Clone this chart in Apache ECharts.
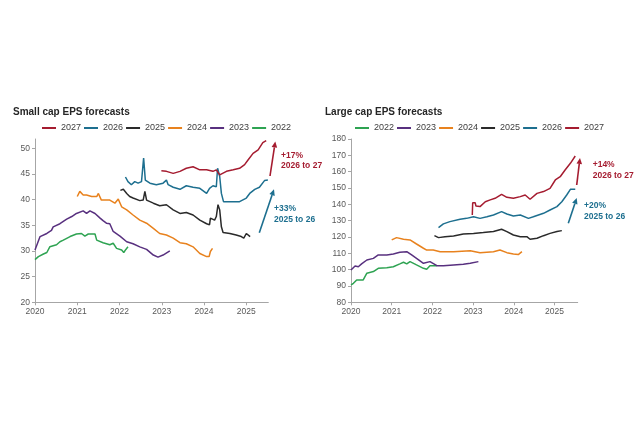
<!DOCTYPE html>
<html><head><meta charset="utf-8">
<script src="https://cdn.jsdelivr.net/npm/echarts@6/dist/echarts.min.js"></script>
<style>html,body{margin:0;padding:0;background:#fff}#c{width:640px;height:426px}</style>
</head><body><div id="c"></div>
<script>
// ---- Data: [decimal year, EPS forecast] ----
const xTicks = [2020, 2021, 2022, 2023, 2024, 2025];

const small2022 = [[2020.00,28.3],[2020.08,28.9],[2020.20,29.4],[2020.28,29.7],[2020.35,30.8],[2020.43,31.0],[2020.51,31.2],[2020.59,31.8],[2020.67,32.1],[2020.83,32.8],[2020.98,33.3],[2021.10,33.4],[2021.18,32.9],[2021.26,33.3],[2021.42,33.3],[2021.46,32.1],[2021.61,31.6],[2021.77,31.2],[2021.85,31.5],[2021.93,30.5],[2022.05,30.2],[2022.10,29.7],[2022.15,30.3],[2022.20,30.8]];
const small2023 = [[2020.00,30.2],[2020.06,31.5],[2020.12,32.8],[2020.28,33.4],[2020.39,34.0],[2020.43,34.7],[2020.59,35.3],[2020.75,36.2],[2020.87,36.7],[2020.98,37.3],[2021.14,37.8],[2021.22,37.3],[2021.30,37.8],[2021.42,37.3],[2021.54,36.4],[2021.61,35.9],[2021.69,35.4],[2021.77,35.3],[2021.85,33.8],[2022.01,32.9],[2022.17,31.8],[2022.32,31.4],[2022.48,30.8],[2022.64,30.3],[2022.80,29.2],[2022.91,28.8],[2023.03,29.2],[2023.19,30.0]];
const small2024 = [[2021.00,40.6],[2021.06,41.6],[2021.14,40.9],[2021.22,40.9],[2021.34,40.6],[2021.46,40.6],[2021.50,41.2],[2021.57,39.9],[2021.77,39.9],[2021.89,39.3],[2021.97,40.1],[2022.05,38.6],[2022.17,38.0],[2022.32,37.0],[2022.48,36.0],[2022.64,35.4],[2022.80,34.4],[2022.95,33.4],[2023.11,33.1],[2023.27,32.5],[2023.43,31.6],[2023.58,31.4],[2023.74,30.8],[2023.90,29.5],[2024.06,28.9],[2024.12,28.9],[2024.15,29.9],[2024.20,30.5]];
const small2025 = [[2022.02,41.8],[2022.09,42.0],[2022.17,41.2],[2022.24,40.6],[2022.32,40.3],[2022.48,39.8],[2022.56,39.9],[2022.60,41.6],[2022.64,39.9],[2022.80,39.3],[2022.95,38.8],[2023.11,39.0],[2023.27,38.0],[2023.43,37.3],[2023.58,37.5],[2023.74,37.0],[2023.90,36.0],[2024.06,35.3],[2024.13,35.1],[2024.15,36.4],[2024.25,36.0],[2024.29,36.7],[2024.33,39.0],[2024.37,38.0],[2024.41,34.7],[2024.45,33.6],[2024.61,33.4],[2024.76,33.1],[2024.88,32.8],[2024.94,32.5],[2025.00,33.4],[2025.09,32.8]];
const small2026 = [[2022.14,44.4],[2022.20,43.5],[2022.28,42.9],[2022.36,43.5],[2022.44,43.2],[2022.52,43.5],[2022.57,48.1],[2022.61,43.8],[2022.72,43.2],[2022.87,42.9],[2023.03,43.2],[2023.11,43.8],[2023.15,42.9],[2023.27,42.4],[2023.43,42.0],[2023.58,42.7],[2023.74,42.4],[2023.90,42.2],[2024.06,41.2],[2024.13,42.2],[2024.21,42.7],[2024.29,42.5],[2024.32,46.1],[2024.37,44.5],[2024.41,41.2],[2024.46,39.6],[2024.61,39.6],[2024.84,39.6],[2025.00,40.3],[2025.08,41.2],[2025.20,42.0],[2025.31,42.4],[2025.43,43.7],[2025.51,43.8]];
const small2027 = [[2022.99,45.6],[2023.11,45.5],[2023.27,45.1],[2023.43,45.5],[2023.58,46.1],[2023.74,46.4],[2023.90,45.8],[2024.06,45.8],[2024.21,45.5],[2024.29,45.8],[2024.37,44.8],[2024.53,45.5],[2024.69,45.8],[2024.84,46.1],[2024.96,46.8],[2025.04,47.7],[2025.16,49.0],[2025.28,49.7],[2025.39,51.1],[2025.47,51.5]];

const large2022 = [[2020.00,90.6],[2020.06,91.6],[2020.14,93.7],[2020.30,93.7],[2020.39,97.8],[2020.55,98.8],[2020.67,100.8],[2020.88,101.2],[2021.04,101.8],[2021.20,103.5],[2021.29,104.5],[2021.37,103.5],[2021.45,104.9],[2021.61,102.9],[2021.78,100.8],[2021.86,100.2],[2021.94,102.4],[2022.11,102.4]];
const large2023 = [[2020.00,99.8],[2020.10,102.2],[2020.18,101.8],[2020.26,103.5],[2020.39,105.9],[2020.55,106.9],[2020.67,109.0],[2020.88,109.0],[2021.04,109.6],[2021.20,110.6],[2021.37,111.0],[2021.49,109.0],[2021.61,106.9],[2021.78,103.9],[2021.94,104.9],[2022.11,102.4],[2022.27,102.4],[2022.52,102.9],[2022.76,103.3],[2022.93,103.9],[2023.13,104.9]];
const large2024 = [[2021.00,118.2],[2021.12,119.6],[2021.29,118.6],[2021.45,118.2],[2021.61,115.7],[2021.78,113.1],[2021.86,112.0],[2022.02,112.0],[2022.19,111.0],[2022.52,111.0],[2022.93,111.6],[2023.17,110.4],[2023.50,111.0],[2023.66,112.0],[2023.83,110.4],[2023.99,109.6],[2024.11,109.2],[2024.20,111.0]];
const large2025 = [[2022.05,120.8],[2022.15,119.6],[2022.31,120.2],[2022.52,120.6],[2022.76,121.8],[2023.01,122.2],[2023.25,122.7],[2023.50,123.3],[2023.70,124.7],[2023.83,123.3],[2023.99,121.2],[2024.16,120.2],[2024.32,120.2],[2024.40,118.6],[2024.57,119.2],[2024.73,120.8],[2024.89,122.2],[2025.06,123.3],[2025.18,123.9]];
const large2026 = [[2022.15,125.7],[2022.27,128.0],[2022.43,129.4],[2022.68,130.8],[2022.84,131.4],[2023.01,132.4],[2023.17,131.4],[2023.34,132.4],[2023.50,133.5],[2023.70,135.5],[2023.83,134.1],[2023.99,132.9],[2024.16,133.5],[2024.36,131.4],[2024.48,132.4],[2024.73,134.5],[2024.89,136.5],[2025.06,138.6],[2025.18,141.6],[2025.30,145.7],[2025.39,149.2],[2025.51,149.2]];
const large2027 = [[2022.98,133.5],[2022.99,141.0],[2023.05,141.0],[2023.07,139.0],[2023.17,138.6],[2023.30,141.6],[2023.42,142.7],[2023.54,143.7],[2023.70,146.1],[2023.83,144.3],[2023.99,143.7],[2024.16,144.7],[2024.28,145.7],[2024.40,143.1],[2024.57,146.7],[2024.73,147.8],[2024.89,149.8],[2025.02,154.9],[2025.14,156.9],[2025.26,161.0],[2025.39,165.1],[2025.51,169.6]];

const smallLegend = ['2027','2026','2025','2024','2023','2022'];
const largeLegend = ['2022','2023','2024','2025','2026','2027'];
const colors = {'2022':'#2ea352','2023':'#58307f','2024':'#e8821e','2025':'#2a2a2a','2026':'#1d6f8f','2027':'#a51c30'};

const FONT = '"Liberation Sans", Arial, sans-serif';
const chart = echarts.init(document.getElementById('c'));

function mkSeries(name, data, idx) {
  return {name, type:'line', data, xAxisIndex:idx, yAxisIndex:idx, showSymbol:false, symbol:'none',
    lineStyle:{width:1.5, color:colors[name]}, itemStyle:{color:colors[name]}, animation:false, z:3};
}
function xAx(idx, max) {
  return {type:'value', gridIndex:idx, min:2020, max:max, interval:1,
    axisLine:{lineStyle:{color:'#a6a6a6', width:1}},
    axisTick:{show:true, length:3, lineStyle:{color:'#a6a6a6'}, customValues:xTicks},
    axisLabel:{color:'#595959', fontSize:8.5, fontFamily:FONT, margin:5, customValues:xTicks, formatter:v=>String(Math.round(v))},
    splitLine:{show:false}};
}
function yAx(idx, min, max, interval, ticks) {
  return {type:'value', gridIndex:idx, min, max, interval,
    axisLine:{show:true, lineStyle:{color:'#a6a6a6', width:1}},
    axisTick:{show:true, length:3, lineStyle:{color:'#a6a6a6'}, customValues:ticks},
    axisLabel:{color:'#595959', fontSize:8.5, fontFamily:FONT, margin:5, customValues:ticks},
    splitLine:{show:false}};
}
const smallY = [20,25,30,35,40,45,50];
const largeY = [80,90,100,110,120,130,140,150,160,170,180];

function arrow(x1,y1,x2,y2,color){
  const dx=x2-x1, dy=y2-y1, L=Math.sqrt(dx*dx+dy*dy), ux=dx/L, uy=dy/L;
  const hl=6, hw=2.8;
  const bx=x2-ux*hl, by=y2-uy*hl;
  return [
    {type:'line', shape:{x1,y1,x2:bx,y2:by}, style:{stroke:color, lineWidth:1.6}, silent:true},
    {type:'polygon', shape:{points:[[x2,y2],[bx-uy*hw,by+ux*hw],[bx+uy*hw,by-ux*hw]]}, style:{fill:color}, silent:true}
  ];
}
function label(x,y,lines,color){
  return lines.map((t,i)=>({type:'text', left:x, top:y+i*10.5, style:{text:t, fill:color, font:'bold 8.5px '+FONT}, silent:true}));
}
const RED='#a51c30', BLUE='#1d6f8f';

chart.setOption({
  backgroundColor:'#fff',
  animation:false,
  title:[
    {text:'Small cap EPS forecasts', left:13, top:107, padding:0, textStyle:{fontSize:10, fontWeight:'bold', color:'#262626', fontFamily:FONT}},
    {text:'Large cap EPS forecasts', left:325, top:107, padding:0, textStyle:{fontSize:10, fontWeight:'bold', color:'#262626', fontFamily:FONT}}
  ],
  legend:[
    {data:smallLegend, left:42, top:123.5, padding:0, icon:'rect', itemWidth:14, itemHeight:2, itemGap:3, selectedMode:false,
     textStyle:{fontSize:9, color:'#404040', fontFamily:FONT}},
    {data:largeLegend, left:355, top:123.5, padding:0, icon:'rect', itemWidth:14, itemHeight:2, itemGap:3, selectedMode:false,
     textStyle:{fontSize:9, color:'#404040', fontFamily:FONT}}
  ],
  grid:[
    {left:35, top:139, width:233.3, bottom:123.7},
    {left:351, top:139, width:226.7, bottom:123.7}
  ],
  xAxis:[xAx(0, 2025.52), xAx(1, 2025.57)],
  yAxis:[yAx(0, 20, 51.8, 5, smallY), yAx(1, 80, 180, 10, largeY)],
  series:[
    mkSeries('2022', small2022, 0), mkSeries('2023', small2023, 0), mkSeries('2024', small2024, 0),
    mkSeries('2025', small2025, 0), mkSeries('2026', small2026, 0), mkSeries('2027', small2027, 0),
    mkSeries('2022', large2022, 1), mkSeries('2023', large2023, 1), mkSeries('2024', large2024, 1),
    mkSeries('2025', large2025, 1), mkSeries('2026', large2026, 1), mkSeries('2027', large2027, 1)
  ],
  graphic:[].concat(
    arrow(270,176,275.3,141.5,RED),
    arrow(259.3,232.7,274,189.3,BLUE),
    arrow(576.7,185,580,158,RED),
    arrow(568.3,223.3,576.7,198,BLUE),
    label(281,151,['+17%','2026 to 27'],RED),
    label(274,204.5,['+33%','2025 to 26'],BLUE),
    label(592.7,160.5,['+14%','2026 to 27'],RED),
    label(584,201.5,['+20%','2025 to 26'],BLUE)
  )
});
</script></body></html>
